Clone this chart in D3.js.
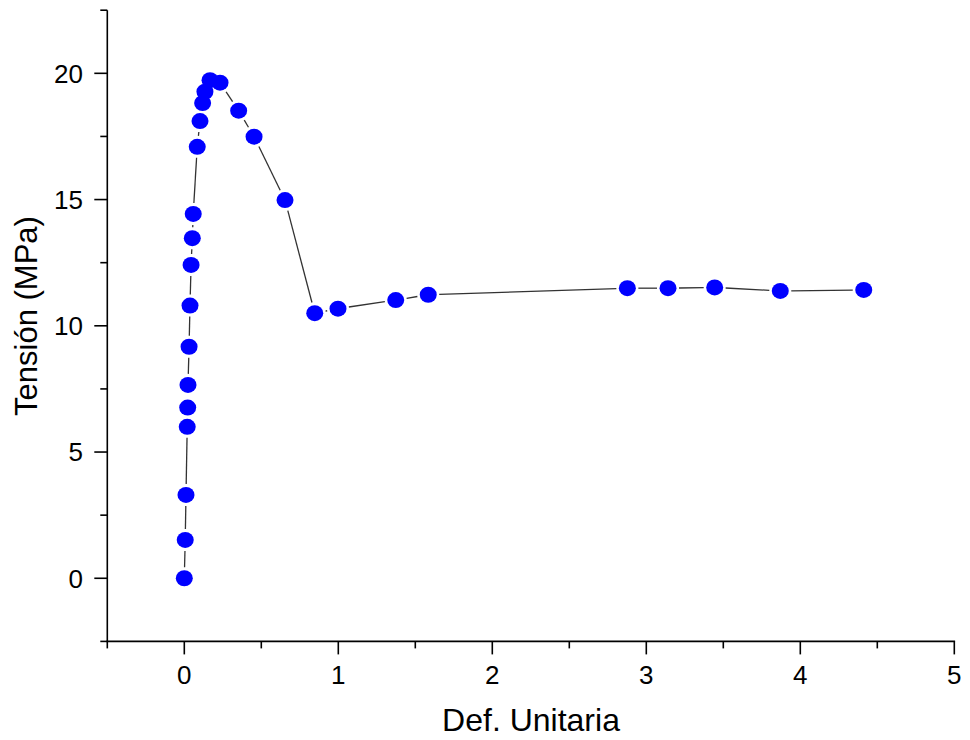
<!DOCTYPE html>
<html>
<head>
<meta charset="utf-8">
<script src="https://cdn.jsdelivr.net/npm/d3@7"></script>
<style>
  html, body { margin: 0; padding: 0; background: #fff; }
  svg { display: block; }
  text { font-family: Arial, "Liberation Sans", sans-serif; fill: #000; }
</style>
</head>
<body>
<script>
// ---- data ----
const defUnitaria = [0, 0.006, 0.011, 0.019, 0.022, 0.024, 0.031, 0.037, 0.044, 0.052, 0.058,
  0.084, 0.102, 0.119, 0.134, 0.167, 0.232, 0.353, 0.453, 0.654, 0.847, 0.998,
  1.373, 1.584, 2.877, 3.141, 3.444, 3.870, 4.412];
const tension = [0, 1.52, 3.30, 6.00, 6.76, 7.66, 9.17, 10.80, 12.41, 13.47, 14.43,
  17.09, 18.11, 18.82, 19.27, 19.73, 19.63, 18.52, 17.49, 14.98, 10.50, 10.68,
  11.02, 11.23, 11.49, 11.49, 11.52, 11.38, 11.42];
const xTicks = [0, 1, 2, 3, 4, 5];
const xMinorTicks = [-0.5, 0.5, 1.5, 2.5, 3.5, 4.5];
const yTicks = [0, 5, 10, 15, 20];
const yMinorTicks = [-2.5, 2.5, 7.5, 12.5, 17.5, 22.5];
const xTitle = "Def. Unitaria";
const yTitle = "Tensión (MPa)";

const W = 970, H = 740;
const svg = d3.select("body").append("svg").attr("width", W).attr("height", H);

const x = d3.scaleLinear().domain([-0.5, 5]).range([107.3, 954.3]);
const y = d3.scaleLinear().domain([-2.5, 22.5]).range([641.4, 10.2]);

const x0 = x(-0.5), yB = y(-2.5);

// axes lines
const ax = svg.append("g").attr("stroke", "#000").attr("stroke-width", 1.6).attr("fill", "none");
ax.append("line").attr("x1", x0).attr("x2", x0).attr("y1", y(22.5)).attr("y2", yB);
ax.append("line").attr("x1", x0 - 0.8).attr("x2", x(5) + 0.8).attr("y1", yB).attr("y2", yB);

// x ticks
ax.selectAll(".xt").data(xTicks).join("line")
  .attr("x1", d => x(d)).attr("x2", d => x(d)).attr("y1", yB).attr("y2", yB + 13);
ax.selectAll(".xm").data(xMinorTicks).join("line").attr("class", "xm")
  .attr("x1", d => x(d)).attr("x2", d => x(d)).attr("y1", yB).attr("y2", yB + 7);
// y ticks
ax.selectAll(".yt").data(yTicks).join("line").attr("class", "yt")
  .attr("x1", x0 - 13).attr("x2", x0).attr("y1", d => y(d)).attr("y2", d => y(d));
ax.selectAll(".ym").data(yMinorTicks).join("line").attr("class", "ym")
  .attr("x1", x0 - 7).attr("x2", x0).attr("y1", d => y(d)).attr("y2", d => y(d));

// tick labels
svg.selectAll(".xl").data(xTicks).join("text").attr("class", "xl")
  .attr("x", d => x(d)).attr("y", 684).attr("text-anchor", "middle")
  .attr("font-size", 26).text(d => d);
svg.selectAll(".yl").data(yTicks).join("text").attr("class", "yl")
  .attr("x", 83).attr("y", d => y(d)).attr("dy", "0.36em").attr("text-anchor", "end")
  .attr("font-size", 26).text(d => d);

// titles
svg.append("text").attr("x", 531).attr("y", 731).attr("text-anchor", "middle")
  .attr("font-size", 32).text(xTitle);
svg.append("text").attr("transform", "translate(37,316) rotate(-90)")
  .attr("text-anchor", "middle").attr("font-size", 31).text(yTitle);

// connecting line, with small gaps around the symbols
const R = 8, GAP = 3;
const pts = defUnitaria.map((d, i) => [x(d), y(tension[i])]);
const segs = [];
for (let i = 0; i < pts.length - 1; i++) {
  const [ax1, ay1] = pts[i], [bx, by] = pts[i + 1];
  const dx = bx - ax1, dy = by - ay1, L = Math.hypot(dx, dy);
  const cut = R + GAP;
  if (L > 2 * cut + 1) {
    const ux = dx / L, uy = dy / L;
    segs.push([ax1 + ux * cut, ay1 + uy * cut, bx - ux * cut, by - uy * cut]);
  }
}
svg.append("g").attr("stroke", "#333").attr("stroke-width", 1.3)
  .selectAll("line").data(segs).join("line")
  .attr("x1", d => d[0]).attr("y1", d => d[1]).attr("x2", d => d[2]).attr("y2", d => d[3]);

// points
svg.append("g").selectAll("ellipse").data(defUnitaria).join("ellipse")
  .attr("cx", d => x(d)).attr("cy", (d, i) => y(tension[i]))
  .attr("rx", 8.5).attr("ry", 8).attr("fill", "#0000ff");
</script>
</body>
</html>
